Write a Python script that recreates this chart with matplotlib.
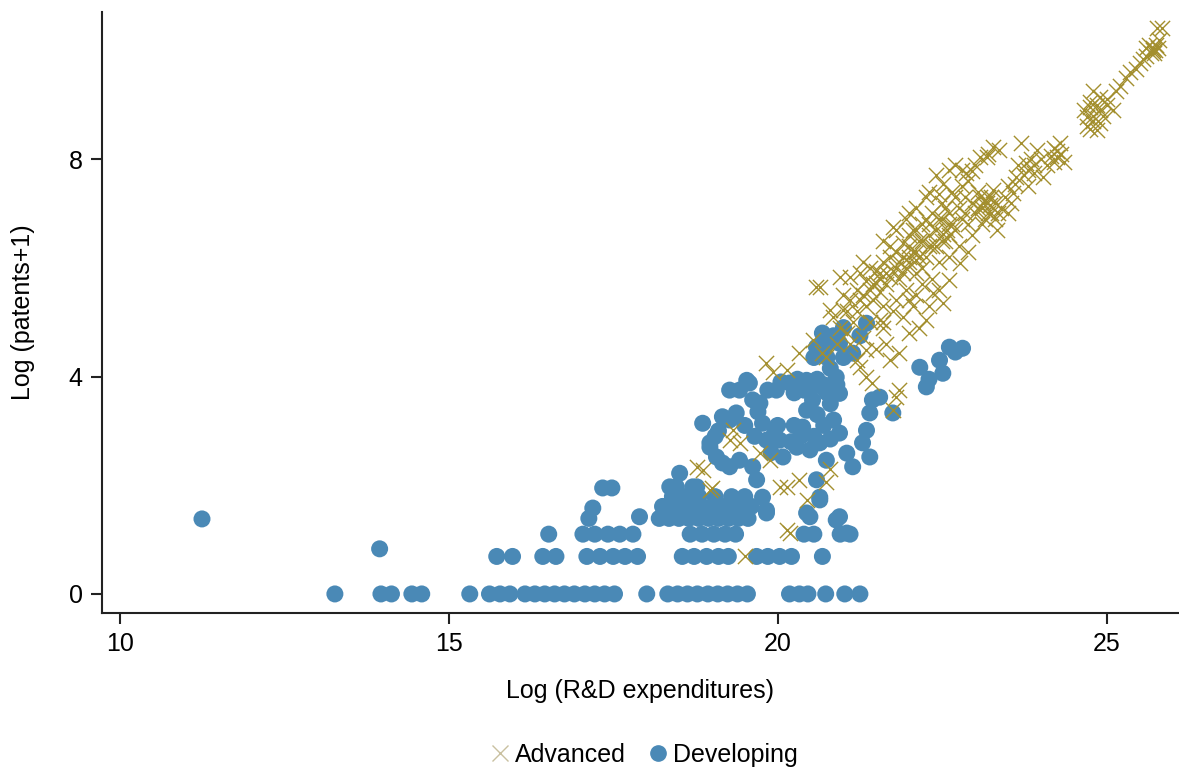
import matplotlib
matplotlib.use("Agg")
import matplotlib.pyplot as plt
from matplotlib.lines import Line2D

plt.rcParams['font.family'] = ['Liberation Sans Narrow', 'Liberation Sans', 'DejaVu Sans']

# Developing economies (blue circles)
dev_x = [
    # y = 0 row
    13.27, 13.97, 14.13, 14.44, 14.59, 15.32, 15.62, 15.78, 15.93, 16.16, 16.31, 16.46,
    16.61, 16.76, 16.91, 17.07, 17.22, 17.37, 17.52, 18.01, 18.33, 18.48, 18.63, 18.78,
    18.94, 19.09, 19.24, 19.39, 19.54, 20.18, 20.33, 20.46, 20.73, 21.02, 21.25,
    # y = 0.69 row
    15.73, 15.97, 16.43, 16.63, 17.10, 17.30, 17.50, 17.68, 17.87, 18.55, 18.73, 18.92,
    19.10, 19.25, 19.68, 19.85, 20.03, 20.21, 20.68,
    # y = 1.1 row
    16.52, 17.04, 17.22, 17.42, 17.60, 17.80, 18.67, 18.85, 19.03, 19.20, 19.36, 20.40,
    20.55, 20.95, 21.10,
    # outliers and small rows
    11.25, 13.95, 17.13, 17.90, 17.19, 17.34, 17.48,
    # dense low cluster
    18.20, 18.35, 18.50, 18.65, 18.80, 18.95, 19.10, 19.25, 19.40, 19.55,
    18.25, 18.40, 18.55, 18.70, 18.85, 19.00, 19.15, 19.30, 19.45, 19.60,
    18.40, 18.60, 18.80, 19.05, 19.30, 19.50,
    18.36, 18.46, 18.71, 18.77, 18.51, 19.07, 19.16, 19.27, 19.42, 19.62, 19.68, 19.77,
    19.83, 19.83,
    # middle cluster
    18.86, 18.97, 18.97, 19.27, 19.42, 19.57, 19.73, 19.27, 19.53, 19.16, 19.37, 19.62,
    19.77, 19.83, 20.03, 20.08, 20.29, 20.49, 20.64, 20.74, 20.94, 21.05, 21.14, 19.98,
    20.18, 20.44, 20.53, 20.68, 20.89, 20.94, 20.44, 20.38, 20.68, 20.59, 20.94, 21.14,
    21.35, 21.44, 21.55, 21.75, 21.40, 21.35, 21.29, 21.40, 20.59, 20.64, 20.44, 20.94,
    20.64, 20.89, 20.49, 21.05,
    19.85, 20.05, 20.30, 20.60, 20.75, 20.80, 20.60, 20.70, 20.85, 20.20, 20.35, 20.55,
    20.80, 19.95, 19.90, 20.00, 20.25, 19.65, 19.50, 19.10, 19.05, 20.75, 20.85, 21.00,
    21.25, 20.75, 21.00, 20.80, 20.55,
    20.40, 20.70, 20.50, 20.90, 20.25, 19.70,
    # upper right group
    22.16, 22.26, 22.46, 22.61, 22.81, 22.51, 22.30, 22.70,
]
dev_y = [
    0, 0, 0, 0, 0, 0, 0, 0, 0, 0, 0, 0,
    0, 0, 0, 0, 0, 0, 0, 0, 0, 0, 0, 0,
    0, 0, 0, 0, 0, 0, 0, 0, 0, 0, 0,
    0.69, 0.69, 0.69, 0.69, 0.69, 0.69, 0.69, 0.69, 0.69, 0.69, 0.69, 0.69,
    0.69, 0.69, 0.69, 0.69, 0.69, 0.69, 0.69,
    1.10, 1.10, 1.10, 1.10, 1.10, 1.10, 1.10, 1.10, 1.10, 1.10, 1.10, 1.10,
    1.10, 1.10, 1.10,
    1.38, 0.83, 1.39, 1.42, 1.58, 1.95, 1.95,
    1.39, 1.39, 1.39, 1.39, 1.39, 1.39, 1.39, 1.39, 1.39, 1.39,
    1.61, 1.61, 1.61, 1.61, 1.61, 1.61, 1.61, 1.61, 1.61, 1.61,
    1.79, 1.79, 1.79, 1.79, 1.79, 1.79,
    1.97, 1.97, 1.97, 1.97, 2.22, 2.52, 2.41, 2.34, 2.46, 2.34, 2.10, 1.78,
    1.49, 1.54,
    3.14, 2.78, 2.70, 3.20, 3.75, 3.88, 3.51, 3.75, 3.93, 3.26, 3.33, 3.57,
    3.14, 2.83, 2.83, 2.52, 2.70, 2.65, 2.78, 2.46, 2.96, 2.59, 2.34, 3.75,
    3.88, 3.93, 3.57, 3.81, 3.99, 3.69, 3.38, 3.07, 4.80, 4.54, 4.61, 4.43,
    4.98, 3.57, 3.62, 3.33, 3.33, 3.01, 2.78, 2.52, 2.10, 1.78, 1.49, 1.42,
    1.73, 1.36, 1.42, 1.12,
    3.75, 3.90, 3.95, 3.95, 3.70, 3.50, 3.30, 3.10, 3.20, 2.80, 2.90, 2.90,
    2.85, 2.95, 2.60, 3.10, 3.10, 2.90, 3.10, 3.00, 2.90, 4.60, 4.75, 4.90,
    4.75, 4.35, 4.35, 4.15, 4.35,
    3.75, 3.85, 3.80, 3.85, 3.70, 3.35,
    4.17, 3.81, 4.30, 4.54, 4.52, 4.06, 3.95, 4.45,
]

# Advanced economies (olive crosses)
adv_x = [
    19.50, 20.18, 20.14, 20.44, 20.03, 20.14, 20.33, 18.86, 18.97, 19.00, 18.77, 19.73,
    19.88, 19.27, 19.42, 19.32, 20.73, 20.80,
    19.83, 19.93, 20.14, 20.33, 20.53, 20.79, 20.74, 21.20, 21.35, 21.44, 20.59, 20.68,
    20.84, 20.99, 21.10, 21.25, 21.35, 21.50, 21.55, 21.70, 21.70, 21.85, 21.85, 21.80,
    22.00, 22.26, 22.36, 22.00, 22.11, 22.51, 20.64, 20.94, 21.75, 22.00, 22.26, 22.51,
    22.87, 23.07, 23.27, 22.61, 22.77, 22.51, 23.33, 21.55, 22.00, 22.57, 23.18, 21.75,
    # dense band
    21.00, 21.10, 21.20, 21.25, 21.30, 21.35, 21.40, 21.45, 21.50, 21.55, 21.60, 21.65,
    21.70, 21.75, 21.80, 21.85, 21.90, 21.95, 22.00, 22.05, 22.10, 22.15, 22.20, 22.25,
    22.30, 22.35, 22.40, 22.45, 22.50, 22.55, 22.60, 22.65, 22.70, 22.75, 22.80, 22.85,
    22.90, 22.95, 23.00, 23.05, 23.10, 23.15, 23.20, 23.25, 23.30, 23.35, 23.40,
    21.90, 22.00, 22.10, 22.20, 22.30, 22.40, 22.50, 22.60, 22.70, 22.80, 22.90, 21.60,
    21.80, 21.95, 22.10, 22.30, 22.40, 22.60, 22.70, 22.10,
    21.40, 21.60, 21.75, 21.90, 22.05, 22.15, 22.30, 22.45, 22.20, 21.65, 21.50, 21.30,
    21.10, 20.95, 21.05, 20.90,
    21.20, 21.30, 21.45, 21.60, 21.70, 21.85, 21.95, 22.05, 22.15, 22.25, 22.35, 22.45,
    22.55, 22.65, 22.75, 22.85, 22.95, 23.05, 23.10, 23.20, 23.25, 23.30, 23.15, 23.22,
    23.12, 22.50, 22.60, 22.30, 22.20, 22.00, 21.90, 21.80, 21.65, 21.55, 21.40, 21.25,
    21.15, 21.05, 21.35, 21.60, 21.80, 22.10, 22.35, 22.60, 22.90, 23.45, 23.50, 23.55,
    22.80, 23.00, 23.20, 22.45,
    # upper right
    23.37, 23.18, 22.96, 23.27, 23.07, 23.57, 23.63, 23.78, 23.94, 24.03, 24.24, 24.29,
    24.70, 24.74, 24.85, 24.90, 24.90, 25.10, 25.15, 25.30, 25.50, 25.70, 25.76, 25.84,
    23.50, 23.65, 23.75, 23.85, 23.90, 24.00, 24.10, 24.20, 24.30, 24.35, 23.70, 23.80,
    23.60, 24.15, 24.70, 24.75, 24.80, 24.85, 24.95, 25.00, 24.80, 24.65, 25.20, 25.35,
    25.45, 25.60, 25.65, 25.72, 25.75, 25.78, 25.80, 25.60, 25.55,
    24.80, 24.90, 24.75, 25.00, 24.25, 24.20, 23.80, 23.90, 25.70, 25.68, 25.74,
]
adv_y = [
    0.69, 1.12, 1.18, 1.73, 1.97, 1.97, 2.10, 2.28, 1.91, 1.95, 2.34, 2.59,
    2.46, 2.83, 2.78, 3.01, 2.06, 2.30,
    4.25, 4.08, 4.12, 4.43, 4.67, 5.22, 4.36, 4.30, 3.99, 3.88, 5.64, 4.43,
    5.09, 5.22, 5.83, 4.17, 4.48, 5.72, 5.04, 5.83, 4.30, 4.43, 3.75, 3.62,
    4.80, 5.04, 5.53, 5.40, 6.14, 6.63, 5.64, 5.83, 6.75, 7.00, 7.30, 7.55,
    7.74, 8.03, 8.22, 5.77, 6.08, 5.35, 6.69, 5.90, 6.20, 6.69, 7.19, 3.38,
    5.50, 5.40, 5.60, 5.90, 5.50, 5.75, 6.00, 5.40, 5.95, 5.55, 6.10, 5.70,
    6.20, 5.95, 6.30, 5.80, 6.45, 6.00, 6.60, 6.30, 5.90, 6.50, 6.80, 6.20,
    6.60, 7.00, 6.40, 6.90, 7.20, 6.50, 7.00, 7.40, 6.70, 7.10, 6.90, 7.30,
    6.80, 7.20, 7.00, 7.40, 7.10, 6.90, 7.30, 7.00, 7.20, 7.00, 7.10,
    5.90, 6.10, 6.30, 6.00, 6.40, 6.70, 6.50, 6.80, 7.30, 7.50, 7.60, 6.50,
    6.70, 6.90, 7.10, 7.40, 7.70, 7.80, 7.90, 6.70,
    5.00, 4.90, 5.20, 5.10, 5.30, 4.90, 5.30, 5.60, 5.70, 4.60, 4.50, 4.70,
    4.60, 4.90, 5.20, 4.60,
    5.20, 6.10, 5.70, 5.30, 6.40, 6.10, 5.60, 6.70, 6.20, 6.90, 6.40, 6.10,
    7.10, 6.80, 6.40, 7.00, 6.60, 7.10, 6.80, 7.00, 7.30, 6.90, 7.25, 7.15,
    7.20, 6.90, 6.60, 6.80, 6.50, 6.40, 6.20, 6.00, 5.90, 5.80, 5.60, 5.40,
    5.00, 4.80, 5.30, 5.00, 5.40, 5.50, 5.80, 6.20, 6.30, 7.30, 7.00, 7.20,
    7.80, 7.90, 8.10, 7.35,
    8.16, 8.03, 7.79, 7.43, 7.30, 7.37, 7.67, 7.92, 8.16, 7.67, 8.03, 8.29,
    8.77, 8.95, 8.53, 8.66, 9.14, 8.90, 9.26, 9.50, 9.76, 10.00, 10.42, 10.42,
    7.50, 7.90, 7.70, 8.00, 7.75, 8.00, 7.90, 8.20, 8.10, 7.95, 8.30, 7.50,
    7.55, 8.05, 8.60, 9.05, 8.80, 9.00, 8.80, 9.10, 9.25, 8.90, 9.35, 9.60,
    9.65, 9.90, 10.10, 9.95, 10.10, 10.05, 10.20, 10.05, 9.85,
    8.70, 8.90, 8.55, 9.00, 8.15, 7.95, 7.80, 7.90, 10.05, 9.95, 10.00,
]

dev_color = '#4a89b6'
adv_color = '#a38f2e'

fig = plt.figure(figsize=(11.79, 7.72), dpi=100)
ax = fig.add_axes([0.0865, 0.206, 0.9135, 0.778])

ax.scatter(dev_x, dev_y, s=150, color=dev_color, edgecolors='none', zorder=2)
ax.scatter(adv_x, adv_y, s=120, marker='x', color=adv_color, linewidths=1.0, zorder=3)

ax.set_xlim(9.73, 26.1)
ax.set_ylim(-0.35, 10.7)
ax.set_xticks([10, 15, 20, 25])
ax.set_yticks([0, 4, 8])

for side in ['top', 'right']:
    ax.spines[side].set_visible(False)
for side in ['left', 'bottom']:
    ax.spines[side].set_linewidth(1.5)
    ax.spines[side].set_color('#222222')
ax.tick_params(length=8, width=1.5, color='#222222', labelsize=18, pad=6)

ax.set_xlabel('Log (R&D expenditures)', fontsize=18, labelpad=16)
ax.set_ylabel('Log (patents+1)', fontsize=18, labelpad=24)

handles = [
    Line2D([], [], marker='x', linestyle='none', color='#c9c0a0', markersize=11, markeredgewidth=1.0),
    Line2D([], [], marker='o', linestyle='none', color=dev_color, markersize=11),
]
fig.legend(handles, ['Advanced', 'Developing'], loc='center', bbox_to_anchor=(0.545, 0.022),
           ncol=2, frameon=False, fontsize=18, handletextpad=0.1, columnspacing=0.8,
           handlelength=1.0)

plt.savefig('out.png', dpi=100)
